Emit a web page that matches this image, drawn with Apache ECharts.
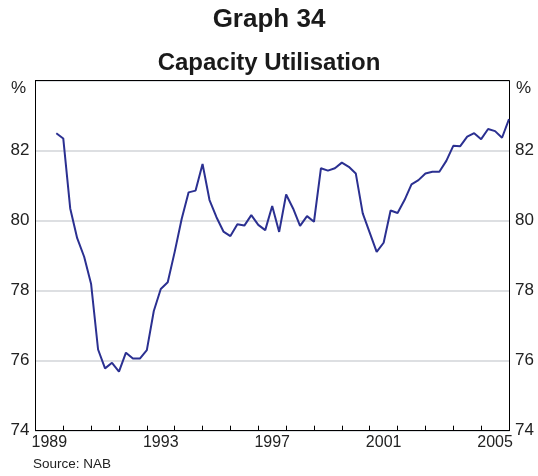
<!DOCTYPE html>
<html>
<head>
<meta charset="utf-8">
<script src="https://cdn.jsdelivr.net/npm/echarts@6/dist/echarts.min.js"></script>
<style>
  html, body { margin: 0; padding: 0; background: #fff; }
  #chart { width: 538px; height: 476px; }
</style>
</head>
<body>
<div id="chart"></div>
<script>
// Quarterly observations, first one is 1989 Q3, last one 2005 Q4 (plotted at quarter end)
const firstYear = 1989;
const firstQuarter = 3;
const capacity = [
  82.50, 82.35, 80.35, 79.50, 78.97, 78.19, 76.32, 75.78, 75.94, 75.69,
  76.23, 76.06, 76.06, 76.30, 77.42, 78.05, 78.24, 79.11, 80.05, 80.81,
  80.86, 81.62, 80.59, 80.10, 79.69, 79.56, 79.90, 79.86, 80.16, 79.88,
  79.73, 80.42, 79.68, 80.75, 80.35, 79.85, 80.13, 79.97, 81.50, 81.43,
  81.50, 81.66, 81.54, 81.35, 80.21, 79.66, 79.11, 79.37, 80.29, 80.22,
  80.59, 81.04, 81.16, 81.35, 81.40, 81.40, 81.71, 82.14, 82.13, 82.40,
  82.50, 82.33, 82.62, 82.56, 82.37, 82.90
];
const yearLabels = [1989, 1993, 1997, 2001, 2005];
const yTicks = [74, 76, 78, 80, 82, 84];
const xMin = 1989, xMax = 2006;

// quarter-end positions on the time axis
const quarterEnd = capacity.map((_, i) => {
  const q = firstQuarter - 1 + i;
  return firstYear + Math.floor(q / 4) + ((q % 4) + 1) / 4;
});
const seriesData = capacity.map((v, i) => [quarterEnd[i], v]);

const FONT = '"Liberation Sans", Arial, sans-serif';
const chart = echarts.init(document.getElementById('chart'), null, { renderer: 'canvas' });

const grid = { left: 35.4, right: 29, top: 80.7, bottom: 45.3 };

chart.setOption({
  animation: false,
  backgroundColor: '#ffffff',
  title: [
    { text: 'Graph 34', left: 'center', top: 2,
      textStyle: { fontFamily: FONT, fontSize: 26, fontWeight: 'bold', color: '#1a1a1a' } },
    { text: 'Capacity Utilisation', left: 'center', top: 46,
      textStyle: { fontFamily: FONT, fontSize: 24, fontWeight: 'bold', color: '#1a1a1a' } }
  ],
  grid: Object.assign({ show: false }, grid),
  xAxis: [
    { type: 'value', min: xMin, max: xMax, interval: 1,
      axisLine: { show: true, onZero: false, lineStyle: { color: '#000', width: 1 } },
      axisTick: { show: true, inside: true, length: 5, lineStyle: { color: '#000', width: 1 } },
      axisLabel: { show: false },
      splitLine: { show: false } },
    { type: 'value', min: xMin, max: xMax, interval: 0.5, position: 'bottom',
      axisLine: { show: false }, axisTick: { show: false }, splitLine: { show: false },
      axisLabel: {
        show: true, margin: 4, fontFamily: FONT, fontSize: 16, color: '#222',
        formatter: function (v) {
          const y = Math.floor(v);
          return (Math.abs(v - y - 0.5) < 1e-6 && yearLabels.indexOf(y) >= 0) ? String(y) : '';
        }
      } },
    { type: 'value', min: xMin, max: xMax, interval: 1, position: 'top',
      axisLine: { show: true, onZero: false, lineStyle: { color: '#000', width: 1 } },
      axisTick: { show: false }, axisLabel: { show: false }, splitLine: { show: false } }
  ],
  yAxis: [
    { type: 'value', min: yTicks[0], max: yTicks[yTicks.length - 1], interval: 2, position: 'left',
      axisLine: { show: true, lineStyle: { color: '#000', width: 1 } },
      axisTick: { show: false },
      axisLabel: { margin: 6, fontFamily: FONT, fontSize: 17, color: '#222',
        formatter: v => (v === 84 ? '' : String(v)) },
      splitLine: { show: true, lineStyle: { color: '#d2d5d8', width: 1.5 } } },
    { type: 'value', min: yTicks[0], max: yTicks[yTicks.length - 1], interval: 2, position: 'right',
      axisLine: { show: true, lineStyle: { color: '#000', width: 1 } },
      axisTick: { show: false },
      axisLabel: { margin: 6, fontFamily: FONT, fontSize: 17, color: '#222',
        formatter: v => (v === 84 ? '' : String(v)) },
      splitLine: { show: false } }
  ],
  graphic: [
    { type: 'text', left: 11, top: 80, style: { text: '%', fontFamily: FONT, fontSize: 17, fill: '#222' } },
    { type: 'text', left: 516, top: 80, style: { text: '%', fontFamily: FONT, fontSize: 17, fill: '#222' } },
    { type: 'text', left: 33, top: 457, style: { text: 'Source: NAB', fontFamily: FONT, fontSize: 13.5, fill: '#222' } }
  ],
  series: [
    { type: 'line', xAxisIndex: 0, yAxisIndex: 0, data: seriesData,
      showSymbol: false, symbol: 'none', smooth: false,
      lineStyle: { color: '#2b3091', width: 2 }, z: 5 }
  ]
});
</script>
</body>
</html>
